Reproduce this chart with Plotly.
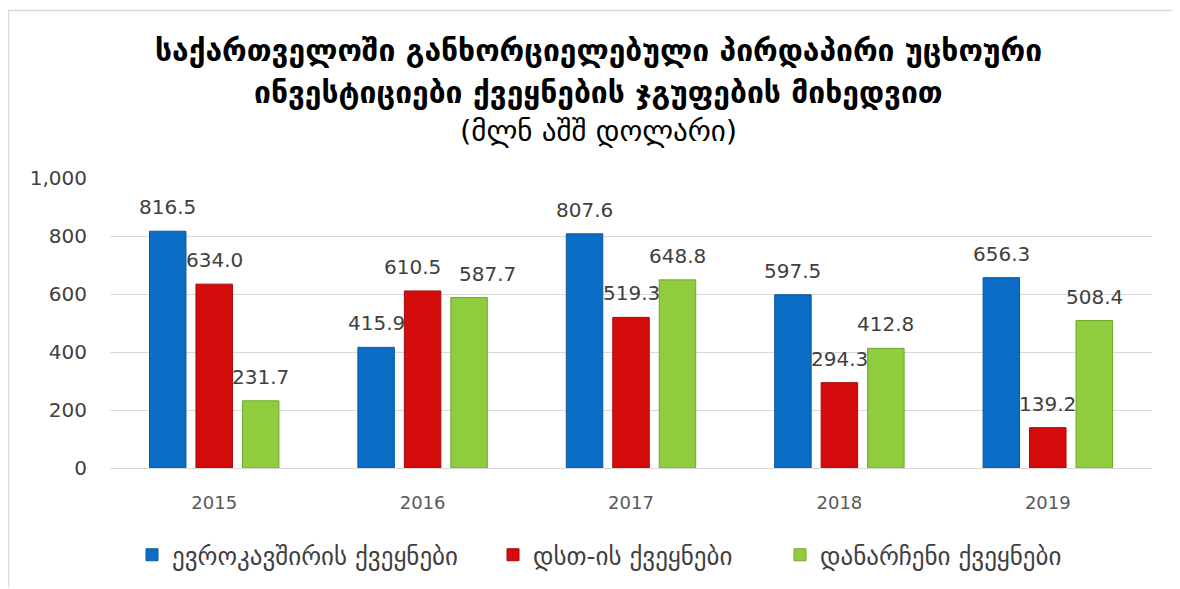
import plotly.graph_objects as go

years = ["2015", "2016", "2017", "2018", "2019"]
eu = [816.5, 415.9, 807.6, 597.5, 656.3]
cis = [634.0, 610.5, 519.3, 294.3, 139.2]
other = [231.7, 587.7, 648.8, 412.8, 508.4]
series_names = ["ევროკავშირის ქვეყნები", "დსთ-ის ქვეყნები", "დანარჩენი ქვეყნები"]
tick_vals = [0, 200, 400, 600, 800, 1000]
tick_text = ["0", "200", "400", "600", "800", "1,000"]

colors = ["#0A6CC4", "#D40C0C", "#8FCC3E"]
lines = ["#075A9F", "#A80808", "#6FA82A"]
legend_ids = ["legend", "legend2", "legend3"]

FW, FH = 1172, 581
L, T, W, H = 102, 170, 1042, 291

def px(x):
    return (x - L) / W

def py(y):
    return (T + H - y) / H

fig = go.Figure()
for name, vals, c, lc, lg in zip(series_names, [eu, cis, other], colors, lines, legend_ids):
    fig.add_trace(go.Bar(
        x=years, y=vals, name=name, legend=lg,
        marker=dict(color=c, line=dict(color=lc, width=1)),
    ))

# value labels, attached to each bar's category / value
slot = W / 5 * (1 - 0.331) / 3
nudges = {(1, 1): -10, (1, 2): 18}
annotations = []
for i, vals in enumerate([eu, cis, other]):
    for k, v in enumerate(vals):
        annotations.append(dict(
            x=k, y=v, xref="x", yref="y", text=f"{v:.1f}", showarrow=False,
            xshift=(i - 1) * slot + nudges.get((k, i), 0), yshift=24,
            yanchor="middle", xanchor="center",
            font=dict(size=20, color="#404040", family="DejaVu Sans"),
        ))

annotations += [
    dict(text="<b>საქართველოში განხორციელებული პირდაპირი უცხოური</b>", x=px(590), y=py(42),
         xref="paper", yref="paper", showarrow=False, xanchor="center", yanchor="middle",
         font=dict(size=30, color="#000000")),
    dict(text="<b>ინვესტიციები ქვეყნების ჯგუფების მიხედვით</b>", x=px(590), y=py(84),
         xref="paper", yref="paper", showarrow=False, xanchor="center", yanchor="middle",
         font=dict(size=30, color="#000000")),
    dict(text="(მლნ აშშ დოლარი)", x=px(590), y=py(123),
         xref="paper", yref="paper", showarrow=False, xanchor="center", yanchor="middle",
         font=dict(size=29, color="#000000")),
]

legend_x = [124, 485, 772]
leg_common = dict(orientation="h", xanchor="left", y=py(547), yanchor="middle",
                  font=dict(size=25, color="#404040"), bgcolor="rgba(0,0,0,0)")

fig.update_layout(
    width=FW, height=FH,
    margin=dict(l=L, r=FW - L - W, t=T, b=FH - T - H),
    paper_bgcolor="white", plot_bgcolor="white",
    barmode="group", bargap=0.331, bargroupgap=0.215,
    font=dict(family="DejaVu Sans", color="#404040"),
    showlegend=True,
    legend=dict(x=px(legend_x[0]), **leg_common),
    legend2=dict(x=px(legend_x[1]), **leg_common),
    legend3=dict(x=px(legend_x[2]), **leg_common),
    xaxis=dict(type="category", range=[-0.5, len(years) - 0.5], autorange=False,
               showgrid=False, tickfont=dict(size=18, color="#595959"), ticks="",
               showline=True, linecolor="#D9D9D9", ticklabelstandoff=18),
    yaxis=dict(range=[0, 1000], autorange=False, tickvals=tick_vals, ticktext=tick_text,
               tickfont=dict(size=20, color="#404040"), gridcolor="#D9D9D9",
               zeroline=False, showline=False, ticks="", ticklabelstandoff=22),
    annotations=annotations,
    shapes=[
        dict(type="line", xref="paper", yref="paper", x0=px(0), x1=px(FW), y0=py(2), y1=py(2),
             line=dict(color="#D9D9D9", width=1.5)),
        dict(type="line", xref="paper", yref="paper", x0=px(0.5), x1=px(0.5), y0=py(2), y1=py(FH),
             line=dict(color="#D9D9D9", width=1.5)),
    ],
)

fig.write_html("out.html")
